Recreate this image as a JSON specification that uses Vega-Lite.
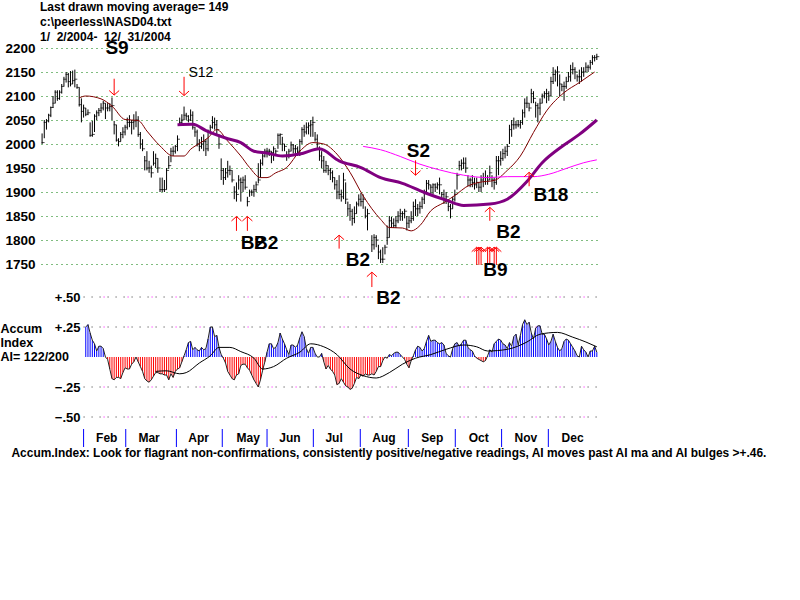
{
"$schema":"https://vega.github.io/schema/vega-lite/v6.json",
"width":558,"height":399,
"autosize":"none",
"padding":{"left":41,"top":48,"right":201,"bottom":153},
"background":"white",
"title":{"text":["Last drawn moving average= 149","c:\\peerless\\NASD04.txt","\u00a0\u00a01/\u00a0\u00a02/2004-\u00a0\u00a012/\u00a0\u00a031/2004"],"anchor":"start","frame":"group","dx":-1,"offset":-5,"font":"Liberation Sans","fontSize":12,"fontWeight":"bold","lineHeight":15,"color":"black"},
"config":{"view":{"stroke":null},"text":{"font":"Liberation Sans"}},
"datasets":{
"price":[
{"d":0,"h":2022,"l":2000,"c":2003},{"d":1,"h":2050,"l":2012,"c":2045},{"d":2,"h":2052,"l":2030,"c":2048},{"d":3,"h":2063,"l":2045,"c":2060},{"d":4,"h":2078,"l":2056,"c":2076},{"d":5,"h":2100,"l":2075,"c":2085},{"d":6,"h":2112,"l":2085,"c":2108},{"d":7,"h":2112,"l":2090,"c":2095},{"d":8,"h":2112,"l":2092,"c":2108},{"d":9,"h":2125,"l":2105,"c":2120},
{"d":10,"h":2140,"l":2120,"c":2135},{"d":11,"h":2150,"l":2128,"c":2145},{"d":12,"h":2148,"l":2118,"c":2130},{"d":13,"h":2152,"l":2120,"c":2125},{"d":14,"h":2153,"l":2125,"c":2132},{"d":15,"h":2155,"l":2118,"c":2135},{"d":16,"h":2125,"l":2115,"c":2118},{"d":17,"h":2118,"l":2078,"c":2082},{"d":18,"h":2095,"l":2045,"c":2068},{"d":19,"h":2082,"l":2055,"c":2075},
{"d":20,"h":2075,"l":2058,"c":2062},{"d":21,"h":2072,"l":2060,"c":2065},{"d":22,"h":2045,"l":2015,"c":2018},{"d":23,"h":2048,"l":2015,"c":2020},{"d":24,"h":2062,"l":2025,"c":2058},{"d":25,"h":2070,"l":2050,"c":2065},{"d":26,"h":2075,"l":2058,"c":2070},{"d":27,"h":2085,"l":2065,"c":2075},{"d":28,"h":2090,"l":2070,"c":2085},{"d":29,"h":2085,"l":2052,"c":2075},
{"d":30,"h":2085,"l":2068,"c":2075},{"d":31,"h":2085,"l":2068,"c":2078},{"d":32,"h":2097,"l":2050,"c":2080},{"d":33,"h":2048,"l":2020,"c":2040},{"d":34,"h":2040,"l":2005,"c":2008},{"d":35,"h":2012,"l":1995,"c":2005},{"d":36,"h":2025,"l":2005,"c":2020},{"d":37,"h":2035,"l":2012,"c":2025},{"d":38,"h":2040,"l":2018,"c":2035},{"d":39,"h":2055,"l":2030,"c":2045},
{"d":40,"h":2060,"l":2035,"c":2045},{"d":41,"h":2050,"l":2020,"c":2045},{"d":42,"h":2062,"l":2030,"c":2048},{"d":43,"h":2068,"l":2035,"c":2050},{"d":44,"h":2058,"l":2015,"c":2020},{"d":45,"h":2025,"l":1990,"c":2000},{"d":46,"h":2010,"l":1985,"c":1990},{"d":47,"h":1975,"l":1945,"c":1965},{"d":48,"h":1985,"l":1945,"c":1950},{"d":49,"h":1965,"l":1940,"c":1950},
{"d":50,"h":1955,"l":1930,"c":1940},{"d":51,"h":1985,"l":1955,"c":1960},{"d":52,"h":1980,"l":1950,"c":1970},{"d":53,"h":1970,"l":1940,"c":1950},{"d":54,"h":1930,"l":1900,"c":1905},{"d":55,"h":1930,"l":1900,"c":1905},{"d":56,"h":1925,"l":1900,"c":1905},{"d":57,"h":1950,"l":1905,"c":1945},{"d":58,"h":1975,"l":1948,"c":1955},{"d":59,"h":1992,"l":1962,"c":1985},
{"d":60,"h":1995,"l":1975,"c":1985},{"d":61,"h":1998,"l":1980,"c":1995},{"d":62,"h":2018,"l":1985,"c":2010},{"d":63,"h":2055,"l":2040,"c":2045},{"d":64,"h":2062,"l":2040,"c":2050},{"d":65,"h":2078,"l":2050,"c":2060},{"d":66,"h":2065,"l":2050,"c":2058},{"d":67,"h":2060,"l":2045,"c":2050},{"d":68,"h":2072,"l":2048,"c":2060},{"d":69,"h":2068,"l":2030,"c":2035},
{"d":70,"h":2035,"l":2015,"c":2025},{"d":71,"h":2030,"l":1995,"c":2000},{"d":72,"h":2010,"l":1985,"c":1995},{"d":73,"h":2015,"l":1990,"c":2000},{"d":74,"h":2020,"l":1985,"c":2005},{"d":75,"h":2010,"l":1975,"c":1990},{"d":76,"h":2030,"l":1985,"c":2025},{"d":77,"h":2040,"l":2020,"c":2035},{"d":78,"h":2058,"l":2032,"c":2045},{"d":79,"h":2055,"l":2030,"c":2040},
{"d":80,"h":2050,"l":2020,"c":2030},{"d":81,"h":2020,"l":1990,"c":2000},{"d":82,"h":1970,"l":1925,"c":1945},{"d":83,"h":1950,"l":1915,"c":1930},{"d":84,"h":1950,"l":1925,"c":1940},{"d":85,"h":1965,"l":1930,"c":1945},{"d":86,"h":1955,"l":1935,"c":1945},{"d":87,"h":1945,"l":1920,"c":1925},{"d":88,"h":1912,"l":1885,"c":1900},{"d":89,"h":1920,"l":1880,"c":1895},
{"d":90,"h":1935,"l":1905,"c":1925},{"d":91,"h":1930,"l":1880,"c":1920},{"d":92,"h":1932,"l":1900,"c":1925},{"d":93,"h":1935,"l":1905,"c":1910},{"d":94,"h":1890,"l":1870,"c":1880},{"d":95,"h":1905,"l":1890,"c":1900},{"d":96,"h":1905,"l":1892,"c":1900},{"d":97,"h":1915,"l":1890,"c":1905},{"d":98,"h":1922,"l":1900,"c":1915},{"d":99,"h":1960,"l":1918,"c":1925},
{"d":100,"h":1968,"l":1930,"c":1960},{"d":101,"h":1985,"l":1955,"c":1975},{"d":102,"h":1990,"l":1972,"c":1985},{"d":103,"h":1992,"l":1972,"c":1985},{"d":104,"h":1990,"l":1975,"c":1985},{"d":105,"h":1985,"l":1960,"c":1982},{"d":106,"h":1995,"l":1965,"c":1990},{"d":107,"h":1988,"l":1975,"c":1985},{"d":108,"h":2022,"l":1990,"c":2018},{"d":109,"h":2022,"l":1998,"c":2020},
{"d":110,"h":2015,"l":1985,"c":2000},{"d":111,"h":2000,"l":1985,"c":1995},{"d":112,"h":1985,"l":1965,"c":1975},{"d":113,"h":1990,"l":1970,"c":1985},{"d":114,"h":2005,"l":1985,"c":1998},{"d":115,"h":2000,"l":1980,"c":1990},{"d":116,"h":1998,"l":1978,"c":1990},{"d":117,"h":1995,"l":1975,"c":1985},{"d":118,"h":2010,"l":1975,"c":2005},{"d":119,"h":2035,"l":2000,"c":2030},
{"d":120,"h":2040,"l":2015,"c":2025},{"d":121,"h":2045,"l":2020,"c":2035},{"d":122,"h":2045,"l":2020,"c":2038},{"d":123,"h":2050,"l":2015,"c":2040},{"d":124,"h":2057,"l":2015,"c":2045},{"d":125,"h":2025,"l":2005,"c":2010},{"d":126,"h":2020,"l":1990,"c":2000},{"d":127,"h":1995,"l":1965,"c":1975},{"d":128,"h":1985,"l":1950,"c":1965},{"d":129,"h":1975,"l":1940,"c":1945},
{"d":130,"h":1965,"l":1940,"c":1955},{"d":131,"h":1955,"l":1935,"c":1945},{"d":132,"h":1950,"l":1925,"c":1940},{"d":133,"h":1945,"l":1920,"c":1930},{"d":134,"h":1930,"l":1905,"c":1915},{"d":135,"h":1925,"l":1885,"c":1900},{"d":136,"h":1935,"l":1885,"c":1895},{"d":137,"h":1905,"l":1880,"c":1890},{"d":138,"h":1940,"l":1885,"c":1925},{"d":139,"h":1920,"l":1875,"c":1885},
{"d":140,"h":1880,"l":1850,"c":1865},{"d":141,"h":1875,"l":1840,"c":1860},{"d":142,"h":1865,"l":1830,"c":1845},{"d":143,"h":1870,"l":1835,"c":1855},{"d":144,"h":1880,"l":1855,"c":1875},{"d":145,"h":1895,"l":1870,"c":1885},{"d":146,"h":1898,"l":1870,"c":1880},{"d":147,"h":1895,"l":1865,"c":1885},{"d":148,"h":1870,"l":1845,"c":1850},{"d":149,"h":1865,"l":1820,"c":1855},
{"d":151,"h":1810,"l":1775,"c":1790},{"d":152,"h":1812,"l":1780,"c":1805},{"d":153,"h":1810,"l":1785,"c":1800},{"d":154,"h":1790,"l":1760,"c":1775},{"d":155,"h":1780,"l":1752,"c":1760},{"d":156,"h":1785,"l":1752,"c":1760},{"d":157,"h":1790,"l":1770,"c":1785},{"d":158,"h":1830,"l":1790,"c":1805},{"d":159,"h":1850,"l":1805,"c":1840},
{"d":160,"h":1848,"l":1825,"c":1835},{"d":161,"h":1845,"l":1825,"c":1830},{"d":162,"h":1850,"l":1825,"c":1840},{"d":163,"h":1860,"l":1835,"c":1850},{"d":164,"h":1865,"l":1840,"c":1855},{"d":165,"h":1860,"l":1840,"c":1855},{"d":166,"h":1865,"l":1845,"c":1860},{"d":167,"h":1850,"l":1820,"c":1835},{"d":168,"h":1850,"l":1825,"c":1840},{"d":169,"h":1860,"l":1835,"c":1845},
{"d":170,"h":1880,"l":1840,"c":1870},{"d":171,"h":1885,"l":1850,"c":1865},{"d":172,"h":1875,"l":1850,"c":1865},{"d":173,"h":1880,"l":1855,"c":1870},{"d":174,"h":1890,"l":1865,"c":1885},{"d":175,"h":1905,"l":1875,"c":1900},{"d":176,"h":1925,"l":1900,"c":1918},{"d":177,"h":1925,"l":1905,"c":1915},{"d":178,"h":1915,"l":1895,"c":1910},{"d":179,"h":1918,"l":1895,"c":1915},
{"d":180,"h":1918,"l":1900,"c":1910},{"d":181,"h":1920,"l":1905,"c":1915},{"d":182,"h":1930,"l":1895,"c":1915},{"d":183,"h":1900,"l":1885,"c":1895},{"d":184,"h":1905,"l":1875,"c":1885},{"d":185,"h":1900,"l":1875,"c":1890},{"d":186,"h":1880,"l":1860,"c":1870},{"d":187,"h":1875,"l":1845,"c":1865},{"d":188,"h":1890,"l":1865,"c":1885},{"d":189,"h":1905,"l":1880,"c":1895},
{"d":190,"h":1940,"l":1905,"c":1935},{"d":191,"h":1965,"l":1945,"c":1955},{"d":192,"h":1968,"l":1945,"c":1960},{"d":193,"h":1972,"l":1948,"c":1960},{"d":194,"h":1972,"l":1940,"c":1950},{"d":195,"h":1935,"l":1912,"c":1925},{"d":196,"h":1930,"l":1910,"c":1925},{"d":197,"h":1935,"l":1910,"c":1920},{"d":198,"h":1930,"l":1905,"c":1915},{"d":199,"h":1930,"l":1908,"c":1920},
{"d":200,"h":1920,"l":1900,"c":1910},{"d":201,"h":1935,"l":1900,"c":1925},{"d":202,"h":1940,"l":1910,"c":1930},{"d":203,"h":1945,"l":1915,"c":1930},{"d":204,"h":1935,"l":1915,"c":1925},{"d":205,"h":1955,"l":1925,"c":1940},{"d":206,"h":1935,"l":1910,"c":1925},{"d":207,"h":1930,"l":1905,"c":1920},{"d":208,"h":1975,"l":1915,"c":1965},{"d":209,"h":1975,"l":1935,"c":1965},
{"d":210,"h":1985,"l":1955,"c":1970},{"d":211,"h":1990,"l":1965,"c":1980},{"d":212,"h":1995,"l":1970,"c":1985},{"d":213,"h":2000,"l":1975,"c":1995},{"d":214,"h":2040,"l":2000,"c":2030},{"d":215,"h":2050,"l":2015,"c":2040},{"d":216,"h":2055,"l":2030,"c":2040},{"d":217,"h":2048,"l":2032,"c":2040},{"d":218,"h":2050,"l":2035,"c":2040},{"d":219,"h":2050,"l":2032,"c":2045},
{"d":220,"h":2072,"l":2040,"c":2065},{"d":221,"h":2095,"l":2055,"c":2085},{"d":222,"h":2098,"l":2075,"c":2085},{"d":223,"h":2085,"l":2068,"c":2075},{"d":224,"h":2115,"l":2085,"c":2105},{"d":225,"h":2110,"l":2085,"c":2095},{"d":226,"h":2088,"l":2055,"c":2080},{"d":227,"h":2085,"l":2045,"c":2075},{"d":228,"h":2095,"l":2060,"c":2085},{"d":229,"h":2105,"l":2085,"c":2100},
{"d":230,"h":2110,"l":2095,"c":2105},{"d":231,"h":2115,"l":2085,"c":2105},{"d":232,"h":2110,"l":2090,"c":2100},{"d":233,"h":2140,"l":2100,"c":2130},{"d":234,"h":2160,"l":2125,"c":2145},{"d":235,"h":2155,"l":2130,"c":2150},{"d":236,"h":2162,"l":2120,"c":2150},{"d":237,"h":2145,"l":2100,"c":2125},{"d":238,"h":2125,"l":2110,"c":2120},{"d":239,"h":2130,"l":2090,"c":2120},
{"d":240,"h":2140,"l":2115,"c":2130},{"d":241,"h":2150,"l":2130,"c":2140},{"d":242,"h":2165,"l":2130,"c":2155},{"d":243,"h":2170,"l":2145,"c":2155},{"d":244,"h":2160,"l":2135,"c":2150},{"d":245,"h":2145,"l":2130,"c":2140},{"d":246,"h":2155,"l":2125,"c":2140},{"d":247,"h":2160,"l":2130,"c":2150},{"d":248,"h":2160,"l":2140,"c":2150},{"d":249,"h":2170,"l":2150,"c":2160},
{"d":250,"h":2165,"l":2150,"c":2160},{"d":251,"h":2175,"l":2155,"c":2170},{"d":252,"h":2185,"l":2165,"c":2180},{"d":253,"h":2185,"l":2172,"c":2180},{"d":254,"h":2188,"l":2175,"c":2182}
],
"ma_fast":[{"d":17,"v":2096},{"d":20,"v":2100},{"d":27,"v":2094},{"d":32,"v":2079},{"d":38,"v":2051},{"d":44,"v":2049},{"d":48,"v":2027},{"d":54,"v":1996},{"d":60,"v":1975},{"d":65,"v":1975},{"d":68,"v":1989},{"d":72,"v":2001},{"d":76,"v":2013},{"d":80,"v":2030},{"d":85,"v":2006},{"d":91,"v":1975},{"d":95,"v":1951},{"d":100,"v":1930},{"d":103,"v":1930},{"d":107,"v":1940},{"d":112,"v":1951},{"d":118,"v":1985},{"d":124,"v":2003},{"d":129,"v":2000},{"d":135,"v":1979},{"d":141,"v":1941},{"d":147,"v":1892},{"d":155,"v":1843},{"d":159,"v":1826},{"d":165,"v":1825},{"d":169,"v":1819},{"d":173,"v":1830},{"d":178,"v":1861},{"d":184,"v":1878},{"d":190,"v":1896},{"d":194,"v":1910},{"d":200,"v":1920},{"d":207,"v":1924},{"d":213,"v":1945},{"d":219,"v":1975},{"d":225,"v":2024},{"d":231,"v":2069},{"d":239,"v":2107},{"d":246,"v":2128},{"d":253,"v":2150}],
"ma_long":[{"d":62,"v":2040},{"d":69,"v":2041},{"d":75,"v":2028},{"d":85,"v":2011},{"d":91,"v":2003},{"d":97,"v":1985},{"d":103,"v":1981},{"d":110,"v":1975},{"d":118,"v":1979},{"d":127,"v":1990},{"d":136,"v":1965},{"d":146,"v":1951},{"d":155,"v":1930},{"d":165,"v":1918},{"d":175,"v":1899},{"d":185,"v":1883},{"d":193,"v":1872},{"d":205,"v":1875},{"d":213,"v":1885},{"d":222,"v":1922},{"d":229,"v":1961},{"d":239,"v":1998},{"d":246,"v":2020},{"d":254,"v":2050}],
"ma_slow":[{"d":147,"v":1995},{"d":155,"v":1988},{"d":164,"v":1974},{"d":173,"v":1958},{"d":182,"v":1946},{"d":193,"v":1935},{"d":204,"v":1930},{"d":213,"v":1932},{"d":225,"v":1932},{"d":232,"v":1937},{"d":240,"v":1949},{"d":248,"v":1961},{"d":254,"v":1967}],
"arrows":[{"d":33,"dir":"down","tip":2102,"tail":2136},{"d":65,"dir":"down","tip":2101,"tail":2140},{"d":89,"dir":"up","tip":1849,"tail":1819},{"d":94,"dir":"up","tip":1849,"tail":1819},{"d":136,"dir":"up","tip":1810,"tail":1782},{"d":151,"dir":"up","tip":1733,"tail":1702},{"d":171,"dir":"down","tip":1935,"tail":1966},{"d":205,"dir":"up","tip":1868,"tail":1840},{"d":223,"dir":"up","tip":1941,"tail":1912},{"d":199,"dir":"up","tip":1785,"tail":1748},{"d":200,"dir":"up","tip":1785,"tail":1748},{"d":201,"dir":"up","tip":1785,"tail":1748},{"d":204,"dir":"up","tip":1785,"tail":1748},{"d":205,"dir":"up","tip":1785,"tail":1748},{"d":207,"dir":"up","tip":1785,"tail":1748},{"d":208,"dir":"up","tip":1785,"tail":1748}],
"signals":[{"d":29,"p":2200,"t":"S9"},{"d":91,"p":1794,"t":"B2"},{"d":97,"p":1794,"t":"B2"},{"d":139,"p":1759,"t":"B2"},{"d":153,"p":1679,"t":"B2"},{"d":167,"p":1986,"t":"S2"},{"d":225,"p":1894,"t":"B18"},{"d":208,"p":1816,"t":"B2"},{"d":202,"p":1738,"t":"B9"}],
"notes":[{"d":67,"p":2147,"t":"S12"}],
"ai":[{"d":20,"ai":0.25},{"d":21,"ai":0.27},{"d":22,"ai":0.2},{"d":23,"ai":0.14},{"d":24,"ai":0.11},{"d":25,"ai":0.05},{"d":26,"ai":0.09},{"d":27,"ai":0.09},{"d":28,"ai":0.07},{"d":29,"ai":0},{"d":30,"ai":-0.02},{"d":31,"ai":-0.1},{"d":32,"ai":-0.18},{"d":33,"ai":-0.19},{"d":34,"ai":-0.17},{"d":35,"ai":-0.17},{"d":36,"ai":-0.18},{"d":37,"ai":-0.13},{"d":38,"ai":-0.09},{"d":39,"ai":-0.1},{"d":40,"ai":-0.1},{"d":41,"ai":-0.06},{"d":42,"ai":-0.04},{"d":43,"ai":0},{"d":44,"ai":-0.04},{"d":45,"ai":-0.08},{"d":46,"ai":-0.12},{"d":47,"ai":-0.18},{"d":48,"ai":-0.2},{"d":49,"ai":-0.21},{"d":50,"ai":-0.19},{"d":51,"ai":-0.16},{"d":52,"ai":-0.13},{"d":53,"ai":-0.13},{"d":54,"ai":-0.14},{"d":55,"ai":-0.14},{"d":56,"ai":-0.15},{"d":57,"ai":-0.15},{"d":58,"ai":-0.19},{"d":59,"ai":-0.14},{"d":60,"ai":-0.17},{"d":61,"ai":-0.12},{"d":62,"ai":-0.1},{"d":63,"ai":-0.09},{"d":64,"ai":-0.04},{"d":65,"ai":0.01},{"d":66,"ai":0.06},{"d":67,"ai":0.12},{"d":68,"ai":0.13},{"d":69,"ai":0.06},{"d":70,"ai":0.08},{"d":71,"ai":0.06},{"d":72,"ai":0.05},{"d":73,"ai":0.08},{"d":74,"ai":0.06},{"d":75,"ai":0.07},{"d":76,"ai":0.15},{"d":77,"ai":0.25},{"d":78,"ai":0.25},{"d":79,"ai":0.17},{"d":80,"ai":0.18},{"d":81,"ai":0.08},{"d":82,"ai":0.02},{"d":83,"ai":-0.01},{"d":84,"ai":-0.05},{"d":85,"ai":-0.12},{"d":86,"ai":-0.15},{"d":87,"ai":-0.18},{"d":88,"ai":-0.19},{"d":89,"ai":-0.15},{"d":90,"ai":-0.14},{"d":91,"ai":-0.07},{"d":92,"ai":-0.06},{"d":93,"ai":-0.06},{"d":94,"ai":-0.09},{"d":95,"ai":-0.11},{"d":96,"ai":-0.15},{"d":97,"ai":-0.19},{"d":98,"ai":-0.22},{"d":99,"ai":-0.25},{"d":100,"ai":-0.19},{"d":101,"ai":-0.11},{"d":102,"ai":-0.04},{"d":103,"ai":0.04},{"d":104,"ai":0.11},{"d":105,"ai":0.11},{"d":106,"ai":0.07},{"d":107,"ai":0.08},{"d":108,"ai":0.12},{"d":109,"ai":0.2},{"d":110,"ai":0.15},{"d":111,"ai":0.11},{"d":112,"ai":0.06},{"d":113,"ai":0.02},{"d":114,"ai":0.1},{"d":115,"ai":0.1},{"d":116,"ai":0.08},{"d":117,"ai":0.1},{"d":118,"ai":0.16},{"d":119,"ai":0.21},{"d":120,"ai":0.17},{"d":121,"ai":0.07},{"d":122,"ai":0.03},{"d":123,"ai":0.08},{"d":124,"ai":0.08},{"d":125,"ai":0.03},{"d":126,"ai":0},{"d":127,"ai":0},{"d":128,"ai":0.03},{"d":129,"ai":-0.04},{"d":130,"ai":-0.1},{"d":131,"ai":-0.07},{"d":132,"ai":-0.1},{"d":133,"ai":-0.12},{"d":134,"ai":-0.15},{"d":135,"ai":-0.23},{"d":136,"ai":-0.22},{"d":137,"ai":-0.18},{"d":138,"ai":-0.21},{"d":139,"ai":-0.24},{"d":140,"ai":-0.25},{"d":141,"ai":-0.27},{"d":142,"ai":-0.26},{"d":143,"ai":-0.22},{"d":144,"ai":-0.17},{"d":145,"ai":-0.18},{"d":146,"ai":-0.15},{"d":147,"ai":-0.16},{"d":148,"ai":-0.14},{"d":149,"ai":-0.15},{"d":150,"ai":-0.15},{"d":151,"ai":-0.14},{"d":152,"ai":-0.15},{"d":153,"ai":-0.12},{"d":154,"ai":-0.08},{"d":155,"ai":-0.08},{"d":156,"ai":-0.03},{"d":157,"ai":0},{"d":158,"ai":-0.01},{"d":159,"ai":0.02},{"d":160,"ai":0.01},{"d":161,"ai":0.03},{"d":162,"ai":0.04},{"d":163,"ai":0.04},{"d":164,"ai":0.02},{"d":165,"ai":0},{"d":166,"ai":-0.02},{"d":167,"ai":-0.06},{"d":168,"ai":-0.09},{"d":169,"ai":-0.03},{"d":170,"ai":0.01},{"d":171,"ai":0.06},{"d":172,"ai":0.09},{"d":173,"ai":0.08},{"d":174,"ai":0.05},{"d":175,"ai":0.07},{"d":176,"ai":0.13},{"d":177,"ai":0.18},{"d":178,"ai":0.13},{"d":179,"ai":0.14},{"d":180,"ai":0.14},{"d":181,"ai":0.12},{"d":182,"ai":0.11},{"d":183,"ai":0.12},{"d":184,"ai":0.1},{"d":185,"ai":0.03},{"d":186,"ai":0.01},{"d":187,"ai":0},{"d":188,"ai":0.07},{"d":189,"ai":0.11},{"d":190,"ai":0.12},{"d":191,"ai":0.09},{"d":192,"ai":0.11},{"d":193,"ai":0.14},{"d":194,"ai":0.14},{"d":195,"ai":0.08},{"d":196,"ai":0.06},{"d":197,"ai":0.05},{"d":198,"ai":0.01},{"d":199,"ai":-0.01},{"d":200,"ai":-0.02},{"d":201,"ai":-0.03},{"d":202,"ai":-0.04},{"d":203,"ai":-0.03},{"d":204,"ai":0.01},{"d":205,"ai":0.06},{"d":206,"ai":0.04},{"d":207,"ai":0.11},{"d":208,"ai":0.13},{"d":209,"ai":0.15},{"d":210,"ai":0.14},{"d":211,"ai":0.11},{"d":212,"ai":0.1},{"d":213,"ai":0.07},{"d":214,"ai":0.12},{"d":215,"ai":0.09},{"d":216,"ai":0.17},{"d":217,"ai":0.19},{"d":218,"ai":0.1},{"d":219,"ai":0.18},{"d":220,"ai":0.27},{"d":221,"ai":0.31},{"d":222,"ai":0.27},{"d":223,"ai":0.29},{"d":224,"ai":0.2},{"d":225,"ai":0.15},{"d":226,"ai":0.24},{"d":227,"ai":0.26},{"d":228,"ai":0.26},{"d":229,"ai":0.19},{"d":230,"ai":0.19},{"d":231,"ai":0.15},{"d":232,"ai":0.1},{"d":233,"ai":0.13},{"d":234,"ai":0.19},{"d":235,"ai":0.13},{"d":236,"ai":0.08},{"d":237,"ai":0.05},{"d":238,"ai":0.07},{"d":239,"ai":0.13},{"d":240,"ai":0.15},{"d":241,"ai":0.14},{"d":242,"ai":0.11},{"d":243,"ai":0.08},{"d":244,"ai":0.05},{"d":245,"ai":0.01},{"d":246,"ai":0},{"d":247,"ai":0.09},{"d":248,"ai":0.06},{"d":249,"ai":0.04},{"d":250,"ai":0},{"d":251,"ai":0.05},{"d":252,"ai":0.05},{"d":253,"ai":0.09},{"d":254,"ai":0.04}],
"ai_ma":[{"d":52,"v":-0.12},{"d":57,"v":-0.115},{"d":63,"v":-0.14},{"d":66,"v":-0.13},{"d":72,"v":-0.05},{"d":77,"v":0.01},{"d":81,"v":0.08},{"d":86,"v":0.08},{"d":91,"v":0.045},{"d":97,"v":-0.01},{"d":101,"v":-0.1},{"d":106,"v":-0.08},{"d":112,"v":-0.01},{"d":118,"v":0.04},{"d":123,"v":0.11},{"d":129,"v":0.085},{"d":135,"v":0.02},{"d":141,"v":-0.1},{"d":147,"v":-0.155},{"d":153,"v":-0.175},{"d":159,"v":-0.13},{"d":165,"v":-0.06},{"d":171,"v":-0.01},{"d":178,"v":0.02},{"d":185,"v":0.064},{"d":193,"v":0.1},{"d":199,"v":0.085},{"d":204,"v":0.05},{"d":213,"v":0.064},{"d":222,"v":0.125},{"d":228,"v":0.19},{"d":236,"v":0.205},{"d":243,"v":0.165},{"d":249,"v":0.125},{"d":254,"v":0.085}],
"levels":[{"d":19,"end":255,"level":0.5},{"d":19,"end":255,"level":0.25},{"d":19,"end":255,"level":-0.25},{"d":19,"end":255,"level":-0.5}],
"month_ticks":[{"d":19},{"d":38.3},{"d":61.5},{"d":82.5},{"d":103},{"d":124.2},{"d":145.7},{"d":167.7},{"d":189.2},{"d":210.4},{"d":231.8}],
"months":[{"d":29.6,"m":"Feb"},{"d":49,"m":"Mar"},{"d":71.7,"m":"Apr"},{"d":94.4,"m":"May"},{"d":113.5,"m":"Jun"},{"d":133.7,"m":"Jul"},{"d":156.5,"m":"Aug"},{"d":178.7,"m":"Sep"},{"d":199.9,"m":"Oct"},{"d":221.5,"m":"Nov"},{"d":242.9,"m":"Dec"}]
},
"encoding":{"x":{"field":"d","type":"quantitative","scale":{"domain":[-0.5,255],"nice":false,"zero":false},
"axis":{"labels":false,"ticks":false,"domain":false,"grid":false,"title":"Accum.Index: Look for flagrant non-confirmations, consistently positive/negative readings, AI moves past AI ma and AI bulges >+.46.","titleX":-30,"titleY":5,"titleAlign":"left","titleAnchor":"start","titleBaseline":"middle","titleFont":"Liberation Sans","titleFontSize":11.95,"titleFontWeight":"bold","titleColor":"black"}}},
"resolve":{"scale":{"y":"independent"},"axis":{"y":"independent"}},
"layer":[
{"layer":[
{"data":{"name":"price"},"mark":{"type":"rule","color":"black","strokeWidth":1},
"encoding":{"y":{"field":"h","type":"quantitative","scale":{"domain":[1368.75,2200],"nice":false,"zero":false},
"axis":{"orient":"left","values":[1750,1800,1850,1900,1950,2000,2050,2100,2150,2200],"format":"d","title":null,"domain":false,"ticks":false,"grid":true,"gridColor":"#007a00","gridDash":[1,4],"gridWidth":1,"gridOpacity":1,"labelFont":"Liberation Sans","labelFontSize":13.5,"labelFontWeight":"bold","labelColor":"black","labelPadding":6,"labelOverlap":false,"labelBound":false,"labelFlush":false}},"y2":{"field":"l"}}},
{"data":{"name":"price"},"mark":{"type":"tick","orient":"horizontal","size":3,"thickness":1,"xOffset":1,"color":"black"},"encoding":{"y":{"field":"c","type":"quantitative"}}},
{"data":{"name":"ma_fast"},"mark":{"type":"line","color":"#800000","strokeWidth":1,"interpolate":"monotone"},"encoding":{"y":{"field":"v","type":"quantitative"}}},
{"data":{"name":"ma_slow"},"mark":{"type":"line","color":"#ff00ff","strokeWidth":1,"interpolate":"monotone"},"encoding":{"y":{"field":"v","type":"quantitative"}}},
{"data":{"name":"ma_long"},"mark":{"type":"line","color":"#800080","strokeWidth":3,"interpolate":"monotone"},"encoding":{"y":{"field":"v","type":"quantitative"}}},
{"data":{"name":"arrows"},"mark":{"type":"rule","color":"#ff0000","strokeWidth":1},"encoding":{"y":{"field":"tip","type":"quantitative"},"y2":{"field":"tail"}}},
{"data":{"name":"arrows"},"mark":{"type":"point","filled":false,"color":"#ff0000","strokeWidth":1,"opacity":1,"size":100},"encoding":{"y":{"field":"tip","type":"quantitative"},"shape":{"field":"dir","type":"nominal","legend":null,"scale":{"domain":["up","down"],"range":["M-1,0.9L0,0L1,0.9","M-1,-0.9L0,0L1,-0.9"]}}}},
{"data":{"name":"signals"},"mark":{"type":"text","align":"left","baseline":"middle","font":"Liberation Sans","fontSize":19,"fontWeight":"bold","color":"black"},"encoding":{"y":{"field":"p","type":"quantitative"},"text":{"field":"t"}}},
{"data":{"name":"notes"},"mark":{"type":"text","align":"left","baseline":"middle","font":"Liberation Sans","fontSize":14,"color":"black"},"encoding":{"y":{"field":"p","type":"quantitative"},"text":{"field":"t"}}}
]},
{"layer":[
{"data":{"name":"levels"},"mark":{"type":"rule","color":"#333333","strokeWidth":1,"strokeDash":[1,7]},
"encoding":{"x2":{"field":"end"},"y":{"field":"level","type":"quantitative","scale":{"domain":[-0.75,2.575],"nice":false,"zero":false},
"axis":{"orient":"left","values":[0.5,0.25,-0.25,-0.5],"labelExpr":"replace(format(datum.value,'+.2f'),'0.','.')","domain":false,"ticks":false,"grid":false,"labelFont":"Liberation Sans","labelFontSize":13,"labelFontWeight":"bold","labelColor":"black","labelPadding":-39,"labelOverlap":false,"labelBound":false,"labelFlush":false,
"title":["Accum","Index","AI= 122/200"],"titleX":-41,"titleY":280,"titleAlign":"left","titleAnchor":"start","titleAngle":0,"titleBaseline":"middle","titleLineHeight":14,"titleFont":"Liberation Sans","titleFontSize":12.5,"titleFontWeight":"bold","titleColor":"black"}}}},
{"data":{"name":"levels"},"mark":{"type":"rule","color":"#ff00ff","strokeWidth":1,"strokeDash":[1,23],"strokeDashOffset":4},"encoding":{"x2":{"field":"end"},"y":{"field":"level","type":"quantitative"}}},
{"data":{"name":"ai"},"mark":{"type":"rule","strokeWidth":1},"encoding":{"y":{"field":"ai","type":"quantitative"},"y2":{"datum":0},"color":{"condition":{"test":"datum.ai<0","value":"#ff0000"},"value":"#0000ff"}}},
{"data":{"name":"ai"},"mark":{"type":"line","color":"#222222","strokeWidth":1},"encoding":{"y":{"field":"ai","type":"quantitative"}}},
{"data":{"name":"ai_ma"},"mark":{"type":"line","color":"black","strokeWidth":1,"interpolate":"monotone"},"encoding":{"y":{"field":"v","type":"quantitative"}}},
{"data":{"name":"month_ticks"},"mark":{"type":"rule","color":"#0000ff","strokeWidth":1},"encoding":{"y":{"datum":-0.6,"type":"quantitative"},"y2":{"datum":-0.75}}},
{"data":{"name":"months"},"mark":{"type":"text","align":"center","baseline":"middle","font":"Liberation Sans","fontSize":12,"fontWeight":"bold","color":"black"},"encoding":{"y":{"datum":-0.675,"type":"quantitative"},"text":{"field":"m"}}}
]}
]
}
